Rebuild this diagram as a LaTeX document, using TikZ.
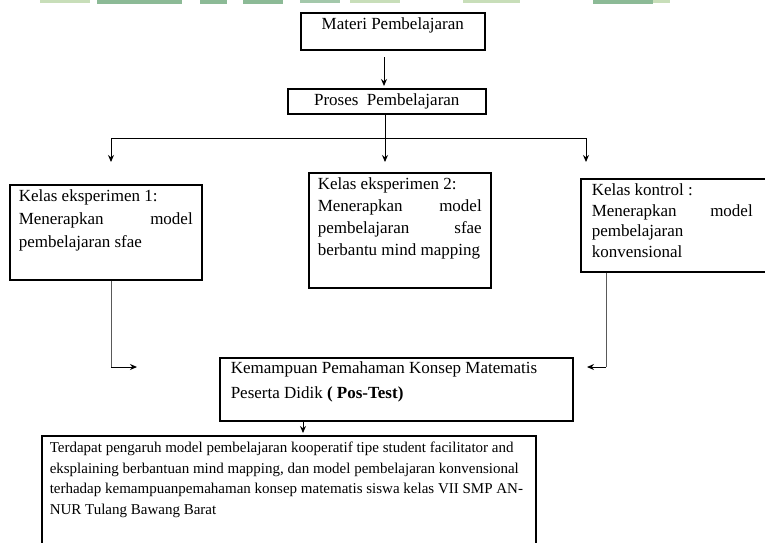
\documentclass[tikz,border=0pt]{standalone}
\usepackage{fontspec}
\setmainfont{Liberation Serif}
\usetikzlibrary{arrows.meta}
\definecolor{wmgreen}{RGB}{140,186,150}
\definecolor{wmlight}{RGB}{200,222,185}
% width, height, first-baseline offset, left pad, right pad, text
\newcommand\bt[6]{\parbox[c][#2][t]{#1}{\leftskip=#4\rightskip=#5\rule{0pt}{#3}#6}}
\tikzset{
  boxnode/.style={draw, line width=1.5pt, inner sep=0pt, anchor=north west,
    font=\fontsize{17}{23}\selectfont},
  arr/.style={line width=1pt, -{Stealth[length=7pt,width=6pt]}},
  thinline/.style={line width=1pt, black!65},
}
\begin{document}
\begin{tikzpicture}[x=1pt,y=-1pt]
\useasboundingbox (0,0) rectangle (765,542);
% watermark remnants at the top
\fill[wmlight] (40,0) rectangle (90,3);
\fill[wmgreen] (97,0) rectangle (182,4);
\fill[wmgreen] (200,0) rectangle (227,4);
\fill[wmgreen] (243,0) rectangle (283,4);
\fill[wmgreen!80] (300,0) rectangle (340,3);
\fill[wmlight] (350,0) rectangle (400,3);
\fill[wmlight] (463,0) rectangle (520,3);
\fill[wmgreen] (593,0) rectangle (653,4);
\fill[wmlight] (653,0) rectangle (670,3);

% boxes
\node[boxnode] (m) at (300,12) {\bt{184pt}{37pt}{17pt}{0pt}{0pt}{\centering Materi Pembelajaran}};
\node[boxnode] (p) at (287,88) {\bt{198pt}{25pt}{17pt}{0pt}{0pt}{\centering Proses\ \ Pembelajaran}};
\node[boxnode] (e1) at (9,184) {\bt{192pt}{95pt}{17pt}{9pt}{9pt}{\baselineskip=23pt Kelas eksperimen 1:\\ Menerapkan\hfill model\\ pembelajaran sfae}};
\node[boxnode] (e2) at (308,172) {\bt{182pt}{115pt}{17pt}{9pt}{9pt}{\baselineskip=22pt Kelas eksperimen 2:\\ Menerapkan\hfill model\\ pembelajaran\hfill sfae\\ berbantu mind mapping}};
\node[boxnode] (k) at (580,178) {\bt{186pt}{93pt}{17pt}{11pt}{14pt}{\baselineskip=20.5pt Kelas kontrol :\\ Menerapkan\hfill model\\ pembelajaran\\ konvensional}};
\node[boxnode] (kp) at (219,357) {\bt{353pt}{63pt}{16pt}{11pt}{0pt}{\baselineskip=24.5pt Kemampuan Pemahaman Konsep Matematis\\ Peserta Didik \textbf{( Pos-Test)}}};
\node[boxnode, font=\fontsize{15}{20.5}\selectfont] (t) at (41,435) {\bt{494pt}{130pt}{17pt}{8pt}{0pt}{Terdapat pengaruh model pembelajaran kooperatif tipe student facilitator and\\ eksplaining berbantuan mind mapping, dan model pembelajaran konvensional\\ terhadap kemampuanpemahaman konsep matematis siswa kelas VII SMP AN-\\ NUR Tulang Bawang Barat}};

% connectors
\coordinate (a1) at (384,57);
\draw[arr] (a1) -- ([yshift=2pt]a1 |- p.north);

\coordinate (hc) at (385,138);
\coordinate (hl) at (111,138);
\coordinate (hr) at (586,138);
\draw[line width=1pt] (p.south -| hc) -- (hc);
\draw[line width=1pt] (hl) -- (hr);
\draw[arr] (hl) -- ++(0,24);
\draw[arr] (hc) -- ++(0,24);
\draw[arr] (hr) -- ++(0,24);

\coordinate (lb) at (111,367);
\coordinate (lt) at (137,367);
\draw[thinline] (e1.south -| lb) -- (lb);
\draw[arr] (lb) -- (lt);

\coordinate (rb) at (606,367);
\coordinate (rt) at (587,367);
\draw[thinline] (k.south -| rb) -- (rb);
\draw[arr] (rb) -- (rt);

\coordinate (d1) at (303,420);
\draw[arr] (kp.south -| d1) -- ([yshift=2pt]d1 |- t.north);
\end{tikzpicture}
\end{document}
